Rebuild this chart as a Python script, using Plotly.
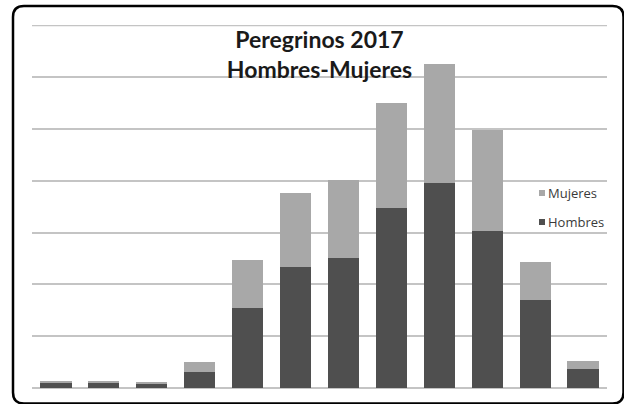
import plotly.graph_objects as go

meses = ["Ene", "Feb", "Mar", "Abr", "May", "Jun", "Jul", "Ago", "Sep", "Oct", "Nov", "Dic"]
hombres = [1000, 1000, 900, 3100, 15400, 23300, 25200, 34800, 39500, 30300, 16900, 3700]
mujeres = [300, 300, 200, 1900, 9300, 14400, 15000, 20300, 23000, 19600, 7500, 1500]
series = ["Mujeres", "Hombres"]
colores = {"Hombres": "#4f4f4f", "Mujeres": "#a8a8a8"}
titulo = "Peregrinos 2017<br>Hombres-Mujeres"
y_max = 70000

W, H = 624, 404
ml, mr, mt, mb = 32, 17, 25, 16
pw, ph = W - ml - mr, H - mt - mb

def px2x(p):
    return (p - ml) / pw

def px2y(p):
    return (H - mb - p) / ph

# rounded frame path in paper coords
x0, x1, y0, y1, r = 13, 623.5, 6, 403.5, 11
def P(x, y):
    return f"{px2x(x):.5f},{px2y(y):.5f}"
path = (f"M {P(x0 + r, y0)} L {P(x1 - r, y0)} Q {P(x1, y0)} {P(x1, y0 + r)} "
        f"L {P(x1, y1 - r)} Q {P(x1, y1)} {P(x1 - r, y1)} "
        f"L {P(x0 + r, y1)} Q {P(x0, y1)} {P(x0, y1 - r)} "
        f"L {P(x0, y0 + r)} Q {P(x0, y0)} {P(x0 + r, y0)} Z")

fig = go.Figure()
fig.add_trace(go.Bar(x=meses, y=hombres, name="Hombres", marker_color=colores["Hombres"],
                     marker_line_width=0))
fig.add_trace(go.Bar(x=meses, y=mujeres, name="Mujeres", marker_color=colores["Mujeres"],
                     marker_line_width=0))

shapes = [
    # top gridline (at the range end)
    dict(type="line", xref="paper", yref="y", x0=0, x1=1, y0=y_max, y1=y_max,
         line=dict(color="#c4c4c4", width=1.5), layer="below"),
    dict(type="path", path=path, xref="paper", yref="paper",
         line=dict(color="black", width=2.5), layer="above"),
]
annotations = []
leg_y = [193, 222]
for name, ly in zip(series, leg_y):
    shapes.append(dict(type="rect", xref="paper", yref="paper",
                       x0=px2x(539), x1=px2x(545), y0=px2y(ly - 3), y1=px2y(ly + 3),
                       fillcolor=colores[name], line=dict(width=0), layer="above"))
    annotations.append(dict(text=name, xref="paper", yref="paper",
                            x=px2x(546), y=px2y(ly), xanchor="left", yanchor="middle",
                            showarrow=False,
                            font=dict(family="Open Sans", size=13, color="#3a3a3a")))

fig.update_layout(
    width=W, height=H,
    margin=dict(l=ml, r=mr, t=mt, b=mb, pad=0),
    paper_bgcolor="white", plot_bgcolor="white",
    barmode="stack", bargap=0.35, showlegend=False,
    title=dict(text=titulo, x=0.5, xref="paper", y=0.88, yref="container",
               xanchor="center", yanchor="top",
               font=dict(family="Lato", size=23, color="#1a1a1a", weight="bold")),
    xaxis=dict(showticklabels=False, showgrid=False, zeroline=False, showline=False,
               ticks="", range=[-0.5, 11.5]),
    yaxis=dict(range=[0, y_max + 100], dtick=10000, showticklabels=False, ticks="",
               showgrid=True, gridcolor="#c4c4c4", gridwidth=1.5,
               zeroline=True, zerolinecolor="#c4c4c4", zerolinewidth=1.5, showline=False),
    shapes=shapes,
    annotations=annotations,
)

fig.write_html("out.html", config={"displayModeBar": False},
               post_script="document.body.style.margin='0';document.body.style.padding='0';")
